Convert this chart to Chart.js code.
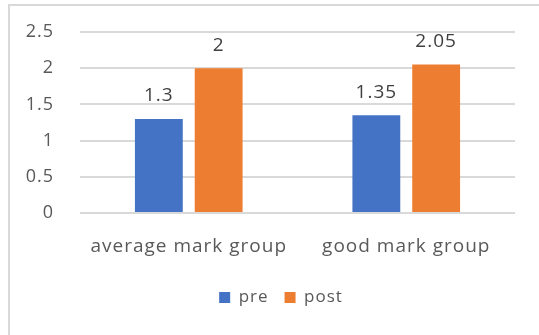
<!DOCTYPE html>
<html>
<head>
<meta charset="utf-8">
<script src="https://cdn.jsdelivr.net/npm/chart.js@4/dist/chart.umd.min.js"></script>
<style>
  html, body { margin: 0; padding: 0; background: #fff; }
  #wrap { position: relative; width: 539px; height: 335px; overflow: hidden; }
  #frame { position: absolute; left: 8px; top: 4px; width: 560px; height: 360px;
           border: 2px solid #d9d9d9; box-sizing: border-box; }
  #chart { position: absolute; left: 0; top: 0; }
</style>
</head>
<body>
<div id="wrap">
  <div id="frame"></div>
  <canvas id="chart" width="539" height="335"></canvas>
</div>
<script>
// groups and scores
const groups = ['average mark group', 'good mark group'];
const preScores = [1.3, 1.35];
const postScores = [2, 2.05];
const seriesNames = ['pre', 'post'];
const seriesColors = ['#4472C4', '#ED7D31'];

const textColor = '#595959';
const fontFamily = "'Open Sans', 'Liberation Sans', sans-serif";

// write each bar's value above it
const valueLabels = {
  id: 'valueLabels',
  afterDatasetsDraw(chart) {
    const ctx = chart.ctx;
    ctx.save();
    ctx.font = '19px ' + fontFamily;
    ctx.fillStyle = '#404040';
    ctx.textAlign = 'center';
    ctx.textBaseline = 'middle';
    chart.data.datasets.forEach((ds, i) => {
      chart.getDatasetMeta(i).data.forEach((bar, j) => {
        ctx.fillText(String(ds.data[j]), bar.x, bar.y - 23);
      });
    });
    ctx.restore();
  }
};

// slightly looser text, legend nudged right under the plot
const tweaks = {
  id: 'tweaks',
  afterLayout(chart) {
    chart.legend.left += 20;
    chart.legend.right += 20;
  },
  beforeDraw(chart) { chart.ctx.letterSpacing = '1px'; }
};

new Chart(document.getElementById('chart'), {
  type: 'bar',
  data: {
    labels: groups,
    datasets: [
      { label: seriesNames[0], data: preScores, backgroundColor: seriesColors[0] },
      { label: seriesNames[1], data: postScores, backgroundColor: seriesColors[1] }
    ]
  },
  options: {
    responsive: false,
    animation: false,
    layout: { padding: { top: 32, right: 24, bottom: 19, left: 0 } },
    datasets: { bar: { categoryPercentage: 0.55, barPercentage: 0.8 } },
    plugins: {
      legend: {
        position: 'bottom',
        labels: {
          boxWidth: 11, boxHeight: 11, padding: 16,
          color: textColor,
          font: { family: fontFamily, size: 17 }
        }
      },
      tooltip: { enabled: false }
    },
    scales: {
      x: {
        grid: { display: false, drawTicks: false },
        border: { display: false },
        ticks: { color: textColor, padding: 22, font: { family: fontFamily, size: 19 } },
        afterFit(scale) { scale.height = 60; }
      },
      y: {
        min: 0, max: 2.5,
        grid: { color: '#d9d9d9', lineWidth: 2, drawTicks: false },
        border: { display: false },
        ticks: {
          stepSize: 0.5, color: textColor, padding: 26,
          font: { family: fontFamily, size: 18 },
          callback: v => String(Math.round(v * 10) / 10)
        },
        afterFit(scale) {
          // fixed axis width, and no extra room reserved above/below for labels
          scale.width = 80;
          scale.paddingTop = 0;
          scale.paddingBottom = 0;
        }
      }
    }
  },
  plugins: [valueLabels, tweaks]
});
</script>
</body>
</html>
